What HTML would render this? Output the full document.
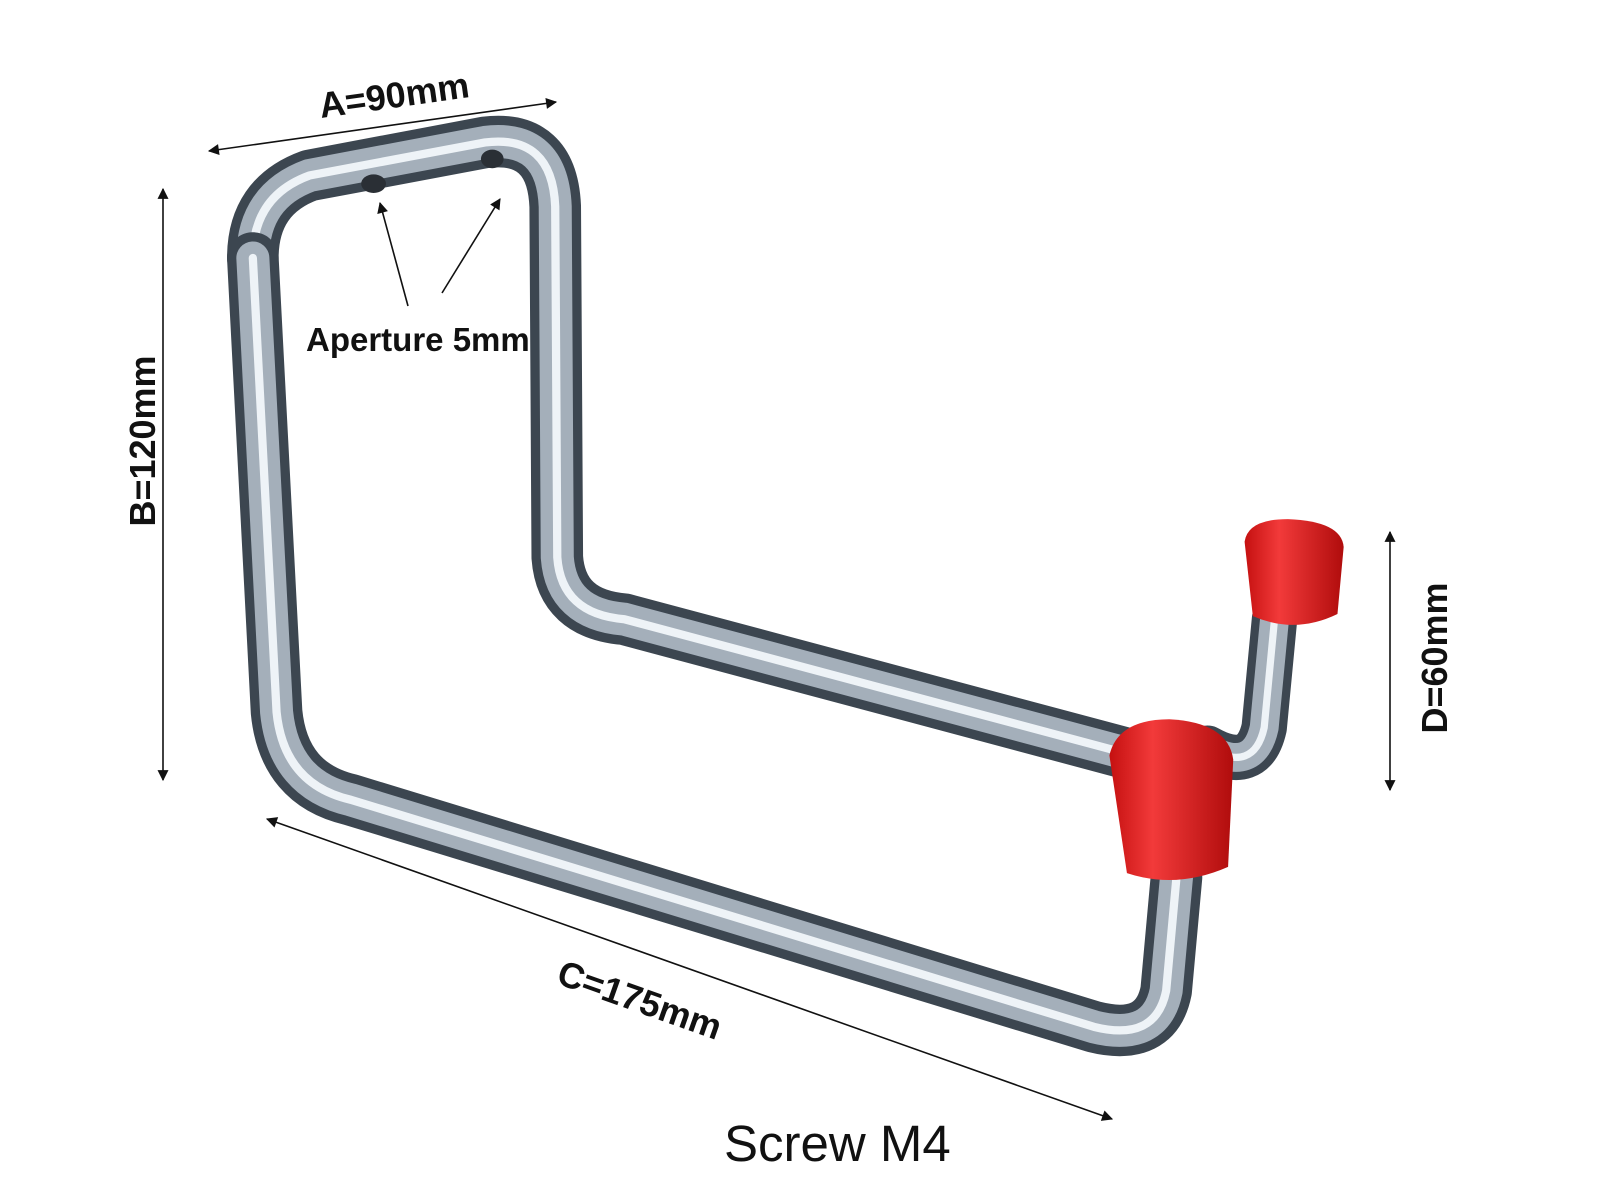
<!DOCTYPE html>
<html><head><meta charset="utf-8"><style>
html,body{margin:0;padding:0;background:#fff;}
svg{display:block}
text{font-family:"Liberation Sans",Arial,sans-serif;}
</style></head><body>
<svg width="1600" height="1200" viewBox="0 0 1600 1200" xmlns="http://www.w3.org/2000/svg">
<defs>
<marker id="ah" viewBox="0 0 10 10" refX="9" refY="5" markerWidth="14" markerHeight="11" orient="auto-start-reverse" markerUnits="userSpaceOnUse">
<path d="M0,0 L10,5 L0,10 z" fill="#111"/></marker>
<linearGradient id="cap" x1="0" x2="1" y1="0" y2="0">
<stop offset="0" stop-color="#c51010"/><stop offset="0.35" stop-color="#f23a3a"/><stop offset="1" stop-color="#b00c0c"/></linearGradient>
</defs>
<g transform="scale(1.032)">
<g fill="none" stroke-linecap="round" stroke-linejoin="round">
<path d="M245,250 Q245,190 300,170 L470,138 Q535,130 538,200 L540,540 Q544,595 605,600 L1110,735" stroke="#3c4650" stroke-width="50"/>
<path d="M245,250 Q245,190 300,170 L470,138 Q535,130 538,200 L540,540 Q544,595 605,600 L1110,735" stroke="#a4afba" stroke-width="32"/>
<path d="M245,250 Q245,190 300,170 L470,138 Q535,130 538,200 L540,540 Q544,595 605,600 L1110,735" stroke="#eef3f7" stroke-width="8"/>
<path d="M245,250 L268,690 Q275,760 340,775 L1060,995 Q1120,1010 1130,960 L1140,850" stroke="#3c4650" stroke-width="50"/>
<path d="M245,250 L268,690 Q275,760 340,775 L1060,995 Q1120,1010 1130,960 L1140,850" stroke="#a4afba" stroke-width="32"/>
<path d="M245,250 L268,690 Q275,760 340,775 L1060,995 Q1120,1010 1130,960 L1140,850" stroke="#eef3f7" stroke-width="8"/>
<path d="M1170,725 Q1215,750 1225,705 L1235,600" stroke="#3c4650" stroke-width="44"/>
<path d="M1170,725 Q1215,750 1225,705 L1235,600" stroke="#a4afba" stroke-width="28"/>
<path d="M1170,725 Q1215,750 1225,705 L1235,600" stroke="#eef3f7" stroke-width="7"/>
</g>
<ellipse cx="362" cy="178" rx="12" ry="9" fill="#2a2f35"/>
<ellipse cx="477" cy="154" rx="11" ry="9" fill="#2a2f35"/>
<path d="M1206,525 Q1209,503 1248,503 Q1300,505 1302,530 L1296,595 Q1255,615 1214,597 Z" fill="url(#cap)"/>
<path d="M1075,732 Q1083,697 1133,697 Q1190,700 1195,736 L1190,840 Q1140,862 1092,846 Z" fill="url(#cap)"/>
</g>
<g stroke="#111" stroke-width="1.6" fill="none">
<line x1="209" y1="151" x2="556" y2="102" marker-start="url(#ah)" marker-end="url(#ah)"/>
<line x1="163" y1="189" x2="163" y2="780" marker-start="url(#ah)" marker-end="url(#ah)"/>
<line x1="267" y1="819" x2="1112" y2="1119" marker-start="url(#ah)" marker-end="url(#ah)"/>
<line x1="1390" y1="532" x2="1390" y2="790" marker-start="url(#ah)" marker-end="url(#ah)"/>
<line x1="408" y1="306" x2="380" y2="203" marker-end="url(#ah)"/>
<line x1="442" y1="293" x2="500" y2="199" marker-end="url(#ah)"/>
</g>
<g font-weight="bold" fill="#111">
<text x="0" y="0" font-size="36" transform="translate(321,118) rotate(-8)">A=90mm</text>
<text x="0" y="0" font-size="36" text-anchor="middle" transform="translate(155,441) rotate(-90)">B=120mm</text>
<text x="0" y="0" font-size="36" transform="translate(555,983) rotate(19.5)">C=175mm</text>
<text x="0" y="0" font-size="36" text-anchor="middle" transform="translate(1447,658) rotate(-90)">D=60mm</text>
<text x="306" y="351" font-size="33">Aperture 5mm</text>
</g>
<text x="724" y="1161" font-size="51" fill="#111">Screw M4</text>
</svg>
</body></html>
